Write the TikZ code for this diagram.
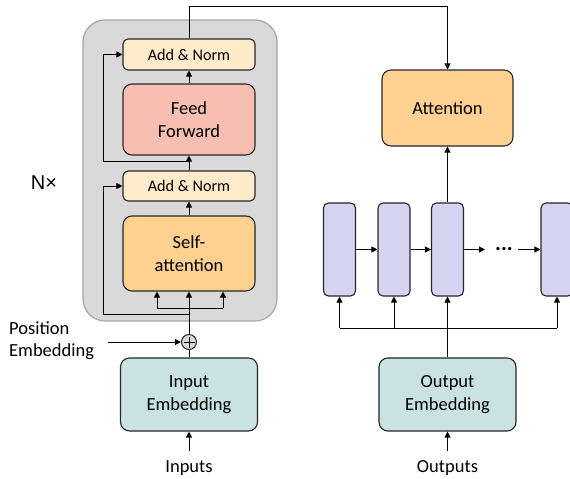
\documentclass[tikz,border=0pt]{standalone}
\usepackage{fontspec}
\setmainfont{Carlito}
\newfontfamily\arialf{Liberation Sans}
\usetikzlibrary{arrows.meta}
\definecolor{encgray}{HTML}{D9D9D9}
\definecolor{encborder}{HTML}{A6A6A6}
\definecolor{addnorm}{HTML}{FFEBC9}
\definecolor{ffcol}{HTML}{F7BFB2}
\definecolor{attcol}{HTML}{FFD191}
\definecolor{embcol}{HTML}{C9E3E3}
\definecolor{cellcol}{HTML}{D5D3EF}
\begin{document}
\begin{tikzpicture}[x=1pt,y=-1pt,
  box/.style={draw=black!85, line width=1.1pt, rounded corners=9pt, inner sep=0pt,
    align=center, font=\fontsize{18.5}{23}\selectfont},
  smallbox/.style={box, rounded corners=5pt, fill=addnorm, font=\fontsize{16.2}{19}\selectfont},
  cell/.style={draw=black!85, line width=1.1pt, rounded corners=5pt, fill=cellcol,
    minimum width=32pt, minimum height=93pt, inner sep=0pt},
  arr/.style={-{Triangle[length=6pt,width=6pt]}, line width=1pt},
  ln/.style={line width=1pt},
  lbl/.style={font=\fontsize{18.5}{22}\selectfont, inner sep=0pt}]
\useasboundingbox (0,0) rectangle (570,479);
\clip (0,0) rectangle (570,479);

% encoder block
\node[draw=encborder, fill=encgray, line width=1.2pt, rounded corners=22pt,
  minimum width=194pt, minimum height=301pt, inner sep=0pt] (enc) at (180,170.5) {};

\node[smallbox, minimum width=132pt, minimum height=31pt] (an2) at (189,54.5) {Add \& Norm};
\node[box, fill=ffcol, minimum width=132pt, minimum height=71pt] (ff) at (189,119.5) {Feed\\Forward};
\node[smallbox, minimum width=132pt, minimum height=30pt] (an1) at (189,186) {Add \& Norm};
\node[box, fill=attcol, minimum width=132pt, minimum height=75pt] (sa) at (189,253.5) {Self-\\attention};

\node[box, fill=embcol, minimum width=137pt, minimum height=73pt] (ie) at (189,394.5) {Input\\Embedding};
\node[circle, draw=black!85, fill=gray!30, line width=1pt, minimum size=15pt, inner sep=0pt] (plus) at (189,342) {};
\draw[ln] ([yshift=5.5pt]plus.center) -- ([yshift=-5.5pt]plus.center);
\draw[ln] ([xshift=-5.5pt]plus.center) -- ([xshift=5.5pt]plus.center);

\node[lbl, align=left, anchor=west] (pos) at (9,341) {Position\\Embedding};
\node[font=\arialf\fontsize{20}{24}\selectfont, inner sep=0pt] (nx) at (44,183) {N×};
\node[lbl] (inp) at (189,468) {Inputs};

% encoder connectors
\draw[arr] (ff.north) -- (an2.south);
\draw[arr] (an1.north) -- (ff.south);
\draw[arr] (sa.north) -- (an1.south);
\coordinate (rt) at (189,161);
\coordinate (rtl) at (103,161);
\draw[arr] (rt) -- (rtl) |- (an2.west);
\coordinate (rb) at (189,314);
\coordinate (rbl) at (103,314);
\draw[arr] (rb) -- (rbl) |- (an1.west);
\coordinate (sal) at (157,308);
\coordinate (sar) at (223,308);
\draw[ln] (sal) -- (sar);
\draw[arr] (sal) -- (sal |- sa.south);
\draw[arr] (sar) -- (sar |- sa.south);
\draw[arr] (plus.north) -- (sa.south);
\draw[ln] (ie.north) -- (plus.south);
\coordinate (pe) at (108,342);
\draw[arr] (pe) -- (plus.west);
\coordinate (ia) at (189,451);
\draw[arr] (ia) -- (ie.south);

% right side
\node[box, fill=attcol, minimum width=131pt, minimum height=76pt] (att) at (447.5,108) {Attention};
\node[cell] (c1) at (339.5,249.5) {};
\node[cell] (c2) at (394,249.5) {};
\node[cell] (c3) at (447.5,249.5) {};
\node[cell] (c4) at (557,249.5) {};
\node[lbl, font=\bfseries\fontsize{22}{24}\selectfont] (dots) at (504,249) {...};
\node[box, fill=embcol, minimum width=137pt, minimum height=73pt] (oe) at (447.5,394.5) {Output\\Embedding};
\node[lbl] (outp) at (447.5,468) {Outputs};

\coordinate (top) at (189,6);
\draw[arr] (an2.north) -- (top) -| (att.north);
\draw[arr] (c3.north) -- (att.south);
\draw[arr] (c1.east) -- (c2.west);
\draw[arr] (c2.east) -- (c3.west);
\coordinate (d1) at (485,249.5);
\coordinate (d2) at (518,249.5);
\draw[arr] (c3.east) -- (d1);
\draw[arr] (d2) -- (c4.west);
\coordinate (bl) at (339.5,328);
\coordinate (b2) at (394,328);
\coordinate (br) at (557,328);
\draw[ln] (bl) -- (br);
\draw[arr] (bl) -- (c1.south);
\draw[arr] (b2) -- (c2.south);
\draw[arr] (br) -- (c4.south);
\draw[arr] (oe.north) -- (c3.south);
\coordinate (oa) at (447.5,451);
\draw[arr] (oa) -- (oe.south);
\end{tikzpicture}
\end{document}
